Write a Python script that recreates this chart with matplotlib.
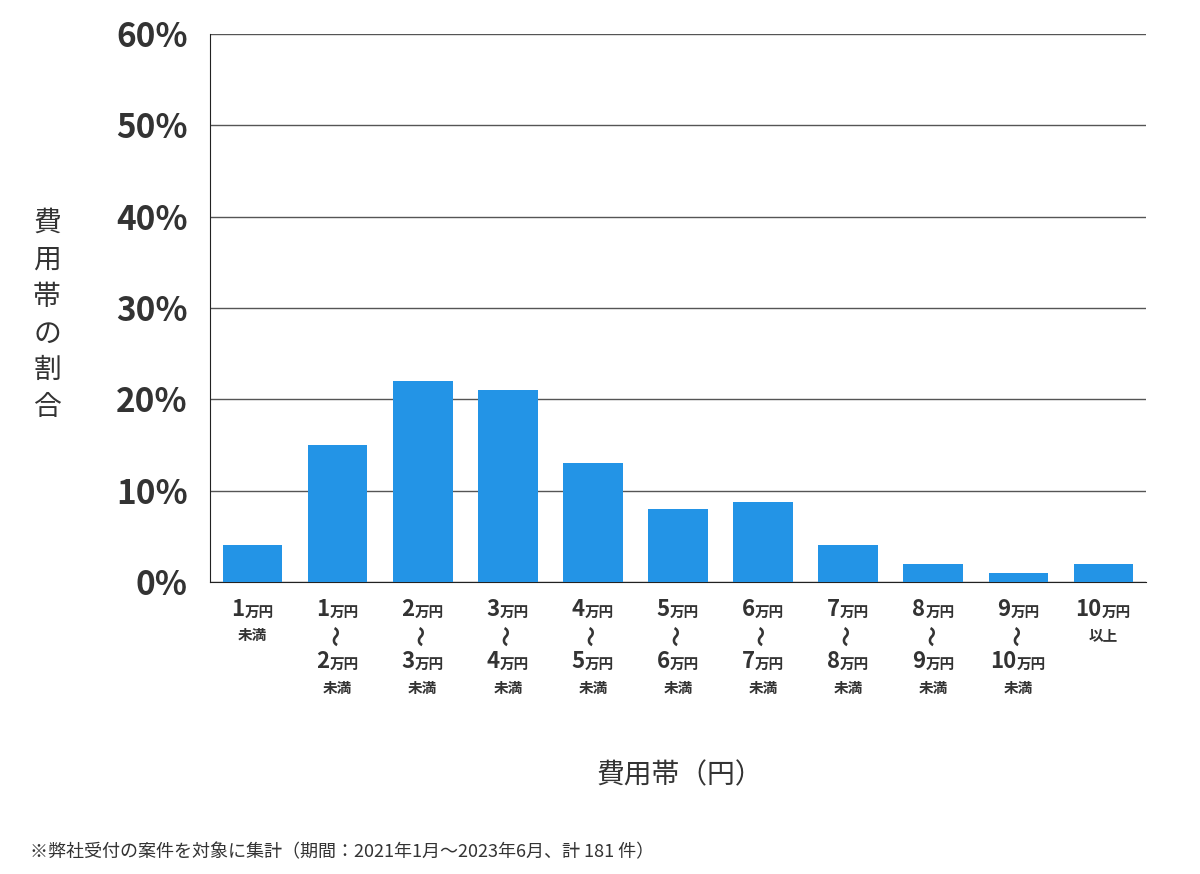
import matplotlib.pyplot as plt
from matplotlib import transforms

plt.rcParams['font.family'] = ['Noto Sans CJK JP', 'DejaVu Sans']

# 費用帯ごとの割合 (%)
lower = ['', '1', '2', '3', '4', '5', '6', '7', '8', '9', '10']
upper = ['1', '2', '3', '4', '5', '6', '7', '8', '9', '10', '']
values = [4, 15, 22, 21, 13, 8, 8.8, 4, 2, 1, 2]
yticks = [0, 10, 20, 30, 40, 50, 60]

fig = plt.figure(figsize=(12, 8.74), dpi=100)
ax = fig.add_axes([210 / 1200, 1 - 582 / 874, 936 / 1200, 548 / 874])

x = list(range(len(values)))
ax.bar(x, values, width=0.7, color='#2394e6', zorder=3)
ax.set_xlim(-0.5, len(values) - 0.5)
ax.set_ylim(0, 60)
ax.set_yticks(yticks)
ax.set_yticklabels([f'{t}%' for t in yticks], fontsize=24, fontweight='bold', color='#333333')
ax.tick_params(axis='y', length=0, pad=16)
ax.set_xticks([])
ax.grid(axis='y', color='#555555', linewidth=1, zorder=0)
for s in ['top', 'right']:
    ax.spines[s].set_visible(False)
ax.spines['left'].set_color('#222222')
ax.spines['bottom'].set_color('#222222')

tr = transforms.blended_transform_factory(ax.transData, fig.transFigure)


def price(xc, ypx, num):
    # number in large bold, 万円 in small bold, centred together
    wn = 12 * len(num)
    wk = 28
    off = (wn - wk) / 2
    t = transforms.offset_copy(tr, fig=fig, x=off, y=0, units='dots')
    y = 1 - ypx / 874
    ax.text(xc, y, num, transform=t, ha='right', va='center', fontsize=16,
            fontweight='bold', color='#333333', clip_on=False)
    ax.text(xc, y - 0.002, '万円', transform=t, ha='left', va='center', fontsize=10.5,
            fontweight='bold', color='#333333', clip_on=False)


def small(xc, ypx, s, rot=0, size=10.5):
    ax.text(xc, 1 - ypx / 874, s, transform=tr, ha='center', va='center', fontsize=size,
            fontweight='bold', color='#333333', rotation=rot, clip_on=False)


for i in x:
    if lower[i] == '':
        price(i, 610, upper[i])
        small(i, 635, '未満')
    elif upper[i] == '':
        price(i, 610, lower[i])
        small(i, 635, '以上')
    else:
        price(i, 610, lower[i])
        small(i, 636, '〜', rot=90, size=15)
        price(i, 662, upper[i])
        small(i, 688, '未満')

fig.text(47 / 1200, 1 - 315 / 874, '費\n用\n帯\nの\n割\n合', ha='center', va='center',
         fontsize=20, color='#333333', linespacing=1.3)
fig.text(680 / 1200, 1 - 775 / 874, '費用帯（円）', ha='center', va='center',
         fontsize=20, color='#333333')
fig.text(30 / 1200, 1 - 852 / 874, '※弊社受付の案件を対象に集計（期間：2021年1月～2023年6月、計 181 件）',
         ha='left', va='center', fontsize=13, color='#333333')

fig.savefig('out.png', dpi=100)
